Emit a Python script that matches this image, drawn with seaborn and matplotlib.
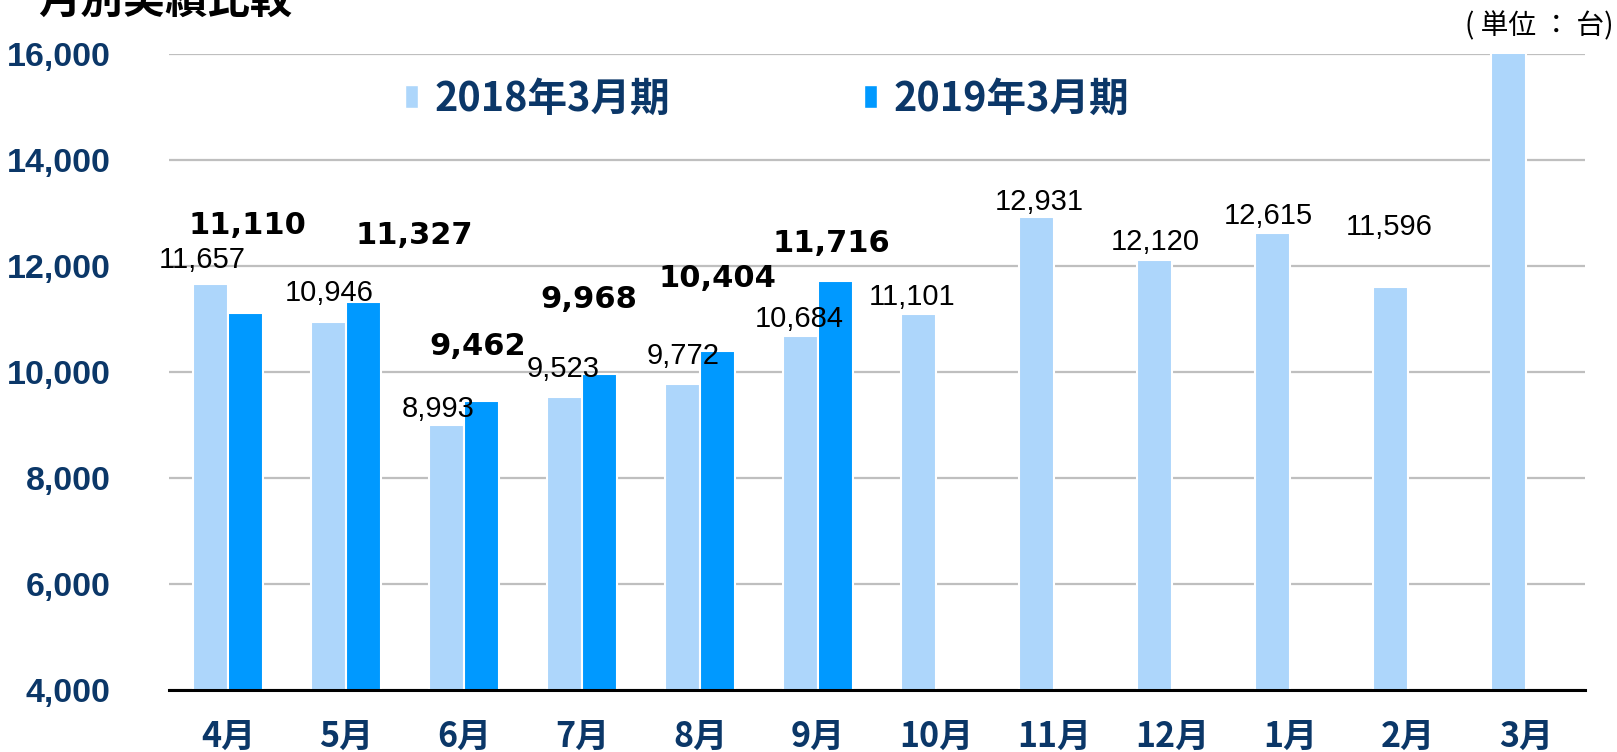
import numpy as np
import pandas as pd
import seaborn as sns
from matplotlib import pyplot as plt
from matplotlib.patches import Patch
from matplotlib.ticker import FuncFormatter

# monthly sales (units), fiscal year ending March
months = ["4月", "5月", "6月", "7月", "8月", "9月", "10月", "11月", "12月", "1月", "2月", "3月"]
fy2018 = [11657, 10946, 8993, 9523, 9772, 10684, 11101, 12931, 12120, 12615, 11596, 16900]
fy2019 = [11110, 11327, 9462, 9968, 10404, 11716]
periods = ["2018年3月期", "2019年3月期"]
yticks = [4000, 6000, 8000, 10000, 12000, 14000, 16000]

# where each value label sits relative to the top of its bar, in pixels (dx, dy)
off2018 = [(-8, 24), (1, 29), (-8, 16), (-1, 28), (1, 28), (-1, 17),
           (-6, 17), (3, 15), (1, 18), (-4, 17), (-1, 60), (0, 20)]
off2019 = [(2, 88), (51, 66), (-4, 54), (-11, 74), (0, 72), (-4, 38)]

LIGHT = "#ADD6FB"
DARK = "#0099FF"
NAVY = "#0B3768"
JP = ["Noto Sans CJK JP", "DejaVu Sans"]

df = pd.concat([
    pd.DataFrame({"month": months, "units": fy2018, "period": periods[0]}),
    pd.DataFrame({"month": months[:len(fy2019)], "units": fy2019, "period": periods[1]}),
], ignore_index=True)

sns.set_style("white")
plt.rcParams["font.family"] = ["Liberation Sans", "Noto Sans CJK JP", "DejaVu Sans"]

fig = plt.figure(figsize=(16.17, 7.52), dpi=100)
ax = fig.add_axes([169 / 1617, 62 / 752, 1416 / 1617, 636 / 752])

sns.barplot(data=df, x="month", y="units", hue="period", order=months, hue_order=periods,
            palette=[LIGHT, DARK], saturation=1, width=0.6, errorbar=None,
            edgecolor="white", linewidth=1.5, legend=False, ax=ax)

ax.set_xlim(-0.5, 11.5)
ax.set_ylim(4000, 16000)
ax.set_yticks(yticks)
ax.yaxis.set_major_formatter(FuncFormatter(lambda v, _: f"{int(v):,}"))
ax.grid(True, axis="y", color="#BFBFBF", linewidth=1.6)
ax.set_axisbelow(True)
for s in ["left", "top", "right"]:
    ax.spines[s].set_visible(False)
ax.spines["bottom"].set_linewidth(2.2)
ax.spines["bottom"].set_color("black")
ax.set_xlabel("")
ax.set_ylabel("")

ax.tick_params(axis="y", length=0, pad=42, labelsize=24.5, labelcolor=NAVY)
for lbl in ax.get_yticklabels():
    lbl.set_fontweight("bold")
ax.tick_params(axis="x", which="major", length=0, pad=21, labelsize=24.5, labelcolor=NAVY)
for lbl in ax.get_xticklabels():
    lbl.set_family(JP)
    lbl.set_fontweight("bold")
ax.set_xticks(np.arange(-0.5, 12, 1), minor=True)
ax.tick_params(axis="x", which="minor", direction="in", length=7, width=1.5, color="black")

# value labels
px = 0.72
label_sets = [
    (fy2018, off2018, dict(fontsize=21)),
    (fy2019, off2019, dict(fontsize=22, fontweight="bold", family="DejaVu Sans")),
]
for cont, (vals, offs, style) in zip(ax.containers, label_sets):
    bars = sorted(cont, key=lambda b: b.get_x())
    for bar, v, (dx, dy) in zip(bars, vals, offs):
        if v > yticks[-1]:
            continue
        ax.annotate(f"{v:,}", (bar.get_x() + bar.get_width() / 2, v),
                    xytext=(dx * px, dy * px), textcoords="offset points",
                    ha="center", va="center", color="black", **style)

handles = [Patch(facecolor=LIGHT), Patch(facecolor=DARK)]
leg = fig.legend(handles, periods, loc="center left", bbox_to_anchor=(405 / 1617, 1 - 99 / 752),
                 ncol=2, frameon=False, handlelength=0.32, handleheight=0.5,
                 handletextpad=0.42, columnspacing=4.9, borderpad=0, borderaxespad=0,
                 prop={"family": JP, "weight": "bold", "size": 28.5})
for t in leg.get_texts():
    t.set_color(NAVY)

fig.text(38 / 1617, 1 - 13 / 752, "月別実績比較", family=JP, fontsize=30.5,
         fontweight="bold", color="black", va="baseline", ha="left")
fig.text(1613 / 1617, 1 - 26 / 752, "( 単位 ： 台)", family=JP, fontsize=20,
         color="black", va="center", ha="right")

fig.savefig("out.png", dpi=100)
